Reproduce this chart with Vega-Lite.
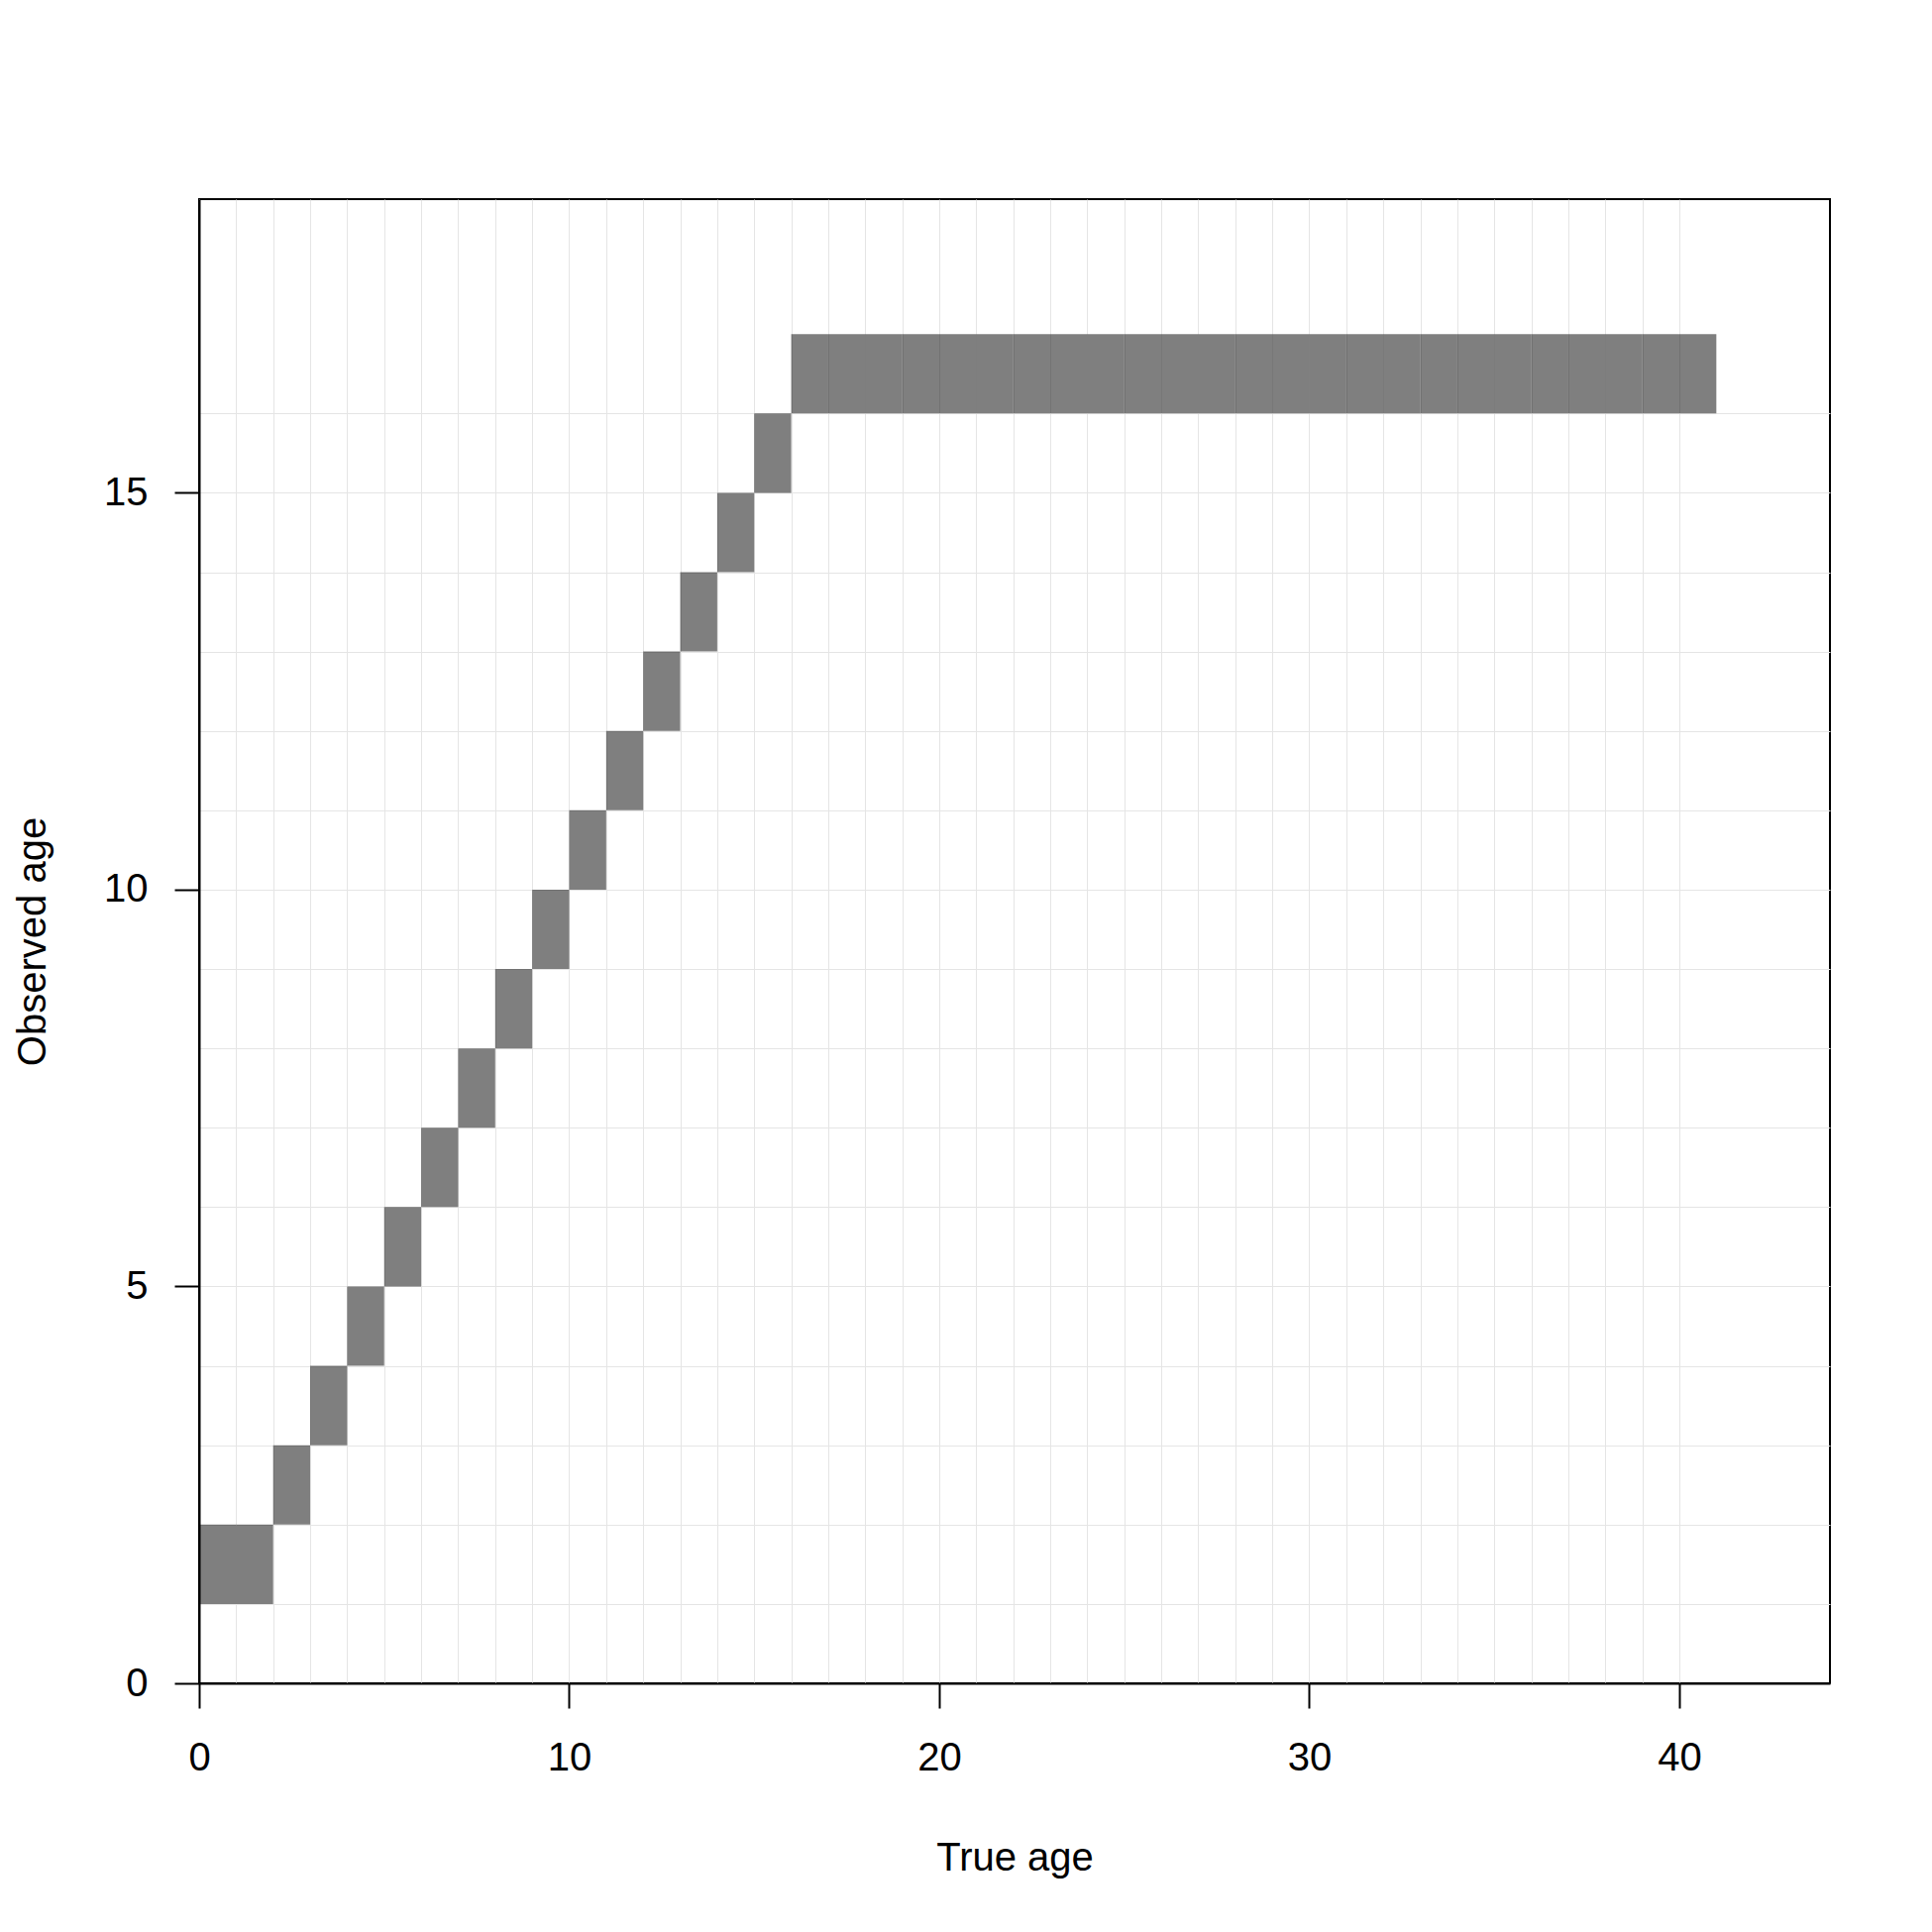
{
  "$schema": "https://vega.github.io/schema/vega-lite/v6.json",
  "autosize": {"type": "none"},
  "padding": {"left": 201, "top": 201, "right": 103, "bottom": 251},
  "width": 1646,
  "height": 1498,
  "background": "white",
  "config": {
    "view": {"stroke": "black", "strokeWidth": 2},
    "font": "Liberation Sans",
    "axis": {
      "labelFont": "Liberation Sans",
      "titleFont": "Liberation Sans",
      "labelFontSize": 40,
      "titleFontSize": 40,
      "titleFontWeight": "normal",
      "labelColor": "black",
      "titleColor": "black",
      "domainColor": "black",
      "domainWidth": 2,
      "tickColor": "black",
      "tickWidth": 2,
      "tickSize": 25,
      "gridColor": "#e5e5e5",
      "gridWidth": 1,
      "labelOverlap": false,
      "labelFlush": false,
      "zindex": 1
    }
  },
  "data": {
    "values": [
      {"true_age": 0, "true_age_end": 1, "obs_age": 1, "obs_age_end": 2},
      {"true_age": 1, "true_age_end": 2, "obs_age": 1, "obs_age_end": 2},
      {"true_age": 2, "true_age_end": 3, "obs_age": 2, "obs_age_end": 3},
      {"true_age": 3, "true_age_end": 4, "obs_age": 3, "obs_age_end": 4},
      {"true_age": 4, "true_age_end": 5, "obs_age": 4, "obs_age_end": 5},
      {"true_age": 5, "true_age_end": 6, "obs_age": 5, "obs_age_end": 6},
      {"true_age": 6, "true_age_end": 7, "obs_age": 6, "obs_age_end": 7},
      {"true_age": 7, "true_age_end": 8, "obs_age": 7, "obs_age_end": 8},
      {"true_age": 8, "true_age_end": 9, "obs_age": 8, "obs_age_end": 9},
      {"true_age": 9, "true_age_end": 10, "obs_age": 9, "obs_age_end": 10},
      {"true_age": 10, "true_age_end": 11, "obs_age": 10, "obs_age_end": 11},
      {"true_age": 11, "true_age_end": 12, "obs_age": 11, "obs_age_end": 12},
      {"true_age": 12, "true_age_end": 13, "obs_age": 12, "obs_age_end": 13},
      {"true_age": 13, "true_age_end": 14, "obs_age": 13, "obs_age_end": 14},
      {"true_age": 14, "true_age_end": 15, "obs_age": 14, "obs_age_end": 15},
      {"true_age": 15, "true_age_end": 16, "obs_age": 15, "obs_age_end": 16},
      {"true_age": 16, "true_age_end": 17, "obs_age": 16, "obs_age_end": 17},
      {"true_age": 17, "true_age_end": 18, "obs_age": 16, "obs_age_end": 17},
      {"true_age": 18, "true_age_end": 19, "obs_age": 16, "obs_age_end": 17},
      {"true_age": 19, "true_age_end": 20, "obs_age": 16, "obs_age_end": 17},
      {"true_age": 20, "true_age_end": 21, "obs_age": 16, "obs_age_end": 17},
      {"true_age": 21, "true_age_end": 22, "obs_age": 16, "obs_age_end": 17},
      {"true_age": 22, "true_age_end": 23, "obs_age": 16, "obs_age_end": 17},
      {"true_age": 23, "true_age_end": 24, "obs_age": 16, "obs_age_end": 17},
      {"true_age": 24, "true_age_end": 25, "obs_age": 16, "obs_age_end": 17},
      {"true_age": 25, "true_age_end": 26, "obs_age": 16, "obs_age_end": 17},
      {"true_age": 26, "true_age_end": 27, "obs_age": 16, "obs_age_end": 17},
      {"true_age": 27, "true_age_end": 28, "obs_age": 16, "obs_age_end": 17},
      {"true_age": 28, "true_age_end": 29, "obs_age": 16, "obs_age_end": 17},
      {"true_age": 29, "true_age_end": 30, "obs_age": 16, "obs_age_end": 17},
      {"true_age": 30, "true_age_end": 31, "obs_age": 16, "obs_age_end": 17},
      {"true_age": 31, "true_age_end": 32, "obs_age": 16, "obs_age_end": 17},
      {"true_age": 32, "true_age_end": 33, "obs_age": 16, "obs_age_end": 17},
      {"true_age": 33, "true_age_end": 34, "obs_age": 16, "obs_age_end": 17},
      {"true_age": 34, "true_age_end": 35, "obs_age": 16, "obs_age_end": 17},
      {"true_age": 35, "true_age_end": 36, "obs_age": 16, "obs_age_end": 17},
      {"true_age": 36, "true_age_end": 37, "obs_age": 16, "obs_age_end": 17},
      {"true_age": 37, "true_age_end": 38, "obs_age": 16, "obs_age_end": 17},
      {"true_age": 38, "true_age_end": 39, "obs_age": 16, "obs_age_end": 17},
      {"true_age": 39, "true_age_end": 40, "obs_age": 16, "obs_age_end": 17},
      {"true_age": 40, "true_age_end": 41, "obs_age": 16, "obs_age_end": 17}
    ]
  },
  "mark": {"type": "rect", "color": "black", "opacity": 0.5, "strokeWidth": 0},
  "encoding": {
    "x": {
      "field": "true_age",
      "type": "quantitative",
      "scale": {"domain": [0, 44.07], "nice": false, "zero": false},
      "axis": {
        "title": "True age",
        "values": [0,1,2,3,4,5,6,7,8,9,10,11,12,13,14,15,16,17,18,19,20,21,22,23,24,25,26,27,28,29,30,31,32,33,34,35,36,37,38,39,40],
        "labelExpr": "datum.value % 10 === 0 ? datum.label : ''",
        "tickOpacity": {"condition": {"test": "datum.value % 10 === 0", "value": 1}, "value": 0},
        "labelPadding": 30,
        "titleX": 823,
        "titleY": 188,
        "titleBaseline": "alphabetic",
        "titleAlign": "center"
      }
    },
    "x2": {"field": "true_age_end"},
    "y": {
      "field": "obs_age",
      "type": "quantitative",
      "scale": {"domain": [0, 18.7], "nice": false, "zero": false},
      "axis": {
        "title": "Observed age",
        "values": [0,1,2,3,4,5,6,7,8,9,10,11,12,13,14,15,16],
        "labelExpr": "datum.value % 5 === 0 ? datum.label : ''",
        "tickOpacity": {"condition": {"test": "datum.value % 5 === 0", "value": 1}, "value": 0},
        "labelPadding": 27,
        "titleX": -156,
        "titleY": 749,
        "titleAngle": -90,
        "titleBaseline": "alphabetic",
        "titleAlign": "center"
      }
    },
    "y2": {"field": "obs_age_end"}
  }
}
